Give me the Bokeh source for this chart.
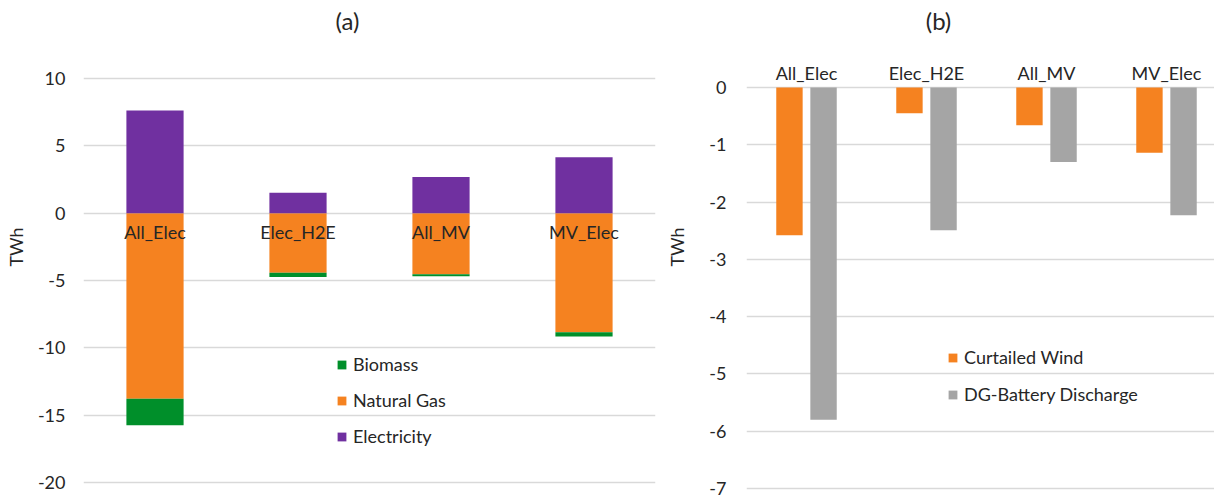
from bokeh.plotting import figure
from bokeh.layouts import row
from bokeh.models import (Range1d, FixedTicker, Legend, LegendItem, ColumnDataSource, Label)
from bokeh.transform import dodge
from bokeh.embed import file_html
from bokeh.resources import INLINE

# ---- data ----
categories = ["All_Elec", "Elec_H2E", "All_MV", "MV_Elec"]
electricity = [7.63, 1.51, 2.68, 4.15]
natural_gas = [-13.78, -4.42, -4.54, -8.84]
biomass = [-1.97, -0.32, -0.15, -0.31]
curtailed_wind = [-2.58, -0.45, -0.66, -1.14]
dg_battery_discharge = [-5.80, -2.49, -1.30, -2.23]
ticks_a = [-20, -15, -10, -5, 0, 5, 10]
ticks_b = [-7, -6, -5, -4, -3, -2, -1, 0]

FONT = "Lato"
TXT = "#262626"
GRID = "#D9D9D9"
ORANGE = "#F58220"
GREEN = "#008F2A"
PURPLE = "#7030A0"
GRAY = "#A5A5A5"
FS = "18px"

idx = list(range(len(categories)))
cat_labels = {i: c for i, c in zip(idx, categories)}


def style_common(p, yticks):
    p.outline_line_color = None
    p.xgrid.visible = False
    p.ygrid.grid_line_color = GRID
    p.ygrid.grid_line_width = 1.5
    for ax in p.axis:
        ax.axis_line_color = None
        ax.major_tick_line_color = None
        ax.minor_tick_line_color = None
        ax.major_tick_out = 0
        ax.major_tick_in = 0
        ax.minor_tick_out = 0
        ax.minor_tick_in = 0
        ax.major_label_text_font = FONT
        ax.major_label_text_font_size = FS
        ax.major_label_text_color = TXT
    p.yaxis.ticker = FixedTicker(ticks=yticks)
    p.yaxis.major_label_overrides = {t: str(t) for t in yticks}
    p.yaxis.axis_label = "TWh"
    p.yaxis.axis_label_text_font = FONT
    p.yaxis.axis_label_text_font_size = FS
    p.yaxis.axis_label_text_font_style = "normal"
    p.yaxis.axis_label_text_color = TXT
    p.xaxis.ticker = FixedTicker(ticks=idx)
    p.xaxis.major_label_overrides = cat_labels
    p.xaxis.fixed_location = 0


def title_label(text, x, y):
    return Label(x=x, y=y, text=text, text_font=FONT, text_font_size="24px",
                 text_color=TXT, text_align="center", text_baseline="middle")


# ---- panel (a) ----
src_a = ColumnDataSource(dict(idx=idx, elec=electricity, ng=natural_gas, bio=biomass))
pa = figure(width=660, height=499, x_range=Range1d(-0.5, 3.5),
            y_range=Range1d(-20.668, 15.643), output_backend="svg", toolbar_location=None,
            min_border_left=83, min_border_right=5, min_border_top=2, min_border_bottom=8)
r_ng, r_bio = pa.vbar_stack(["ng", "bio"], x="idx", width=0.4, color=[ORANGE, GREEN],
                            line_color=None, source=src_a)
r_el = pa.vbar(x="idx", top="elec", bottom=0, width=0.4, color=PURPLE, line_color=None,
               source=src_a)
style_common(pa, ticks_a)
pa.yaxis.major_label_standoff = 18
pa.yaxis.axis_label_standoff = 8
pa.xaxis.major_label_standoff = 8
pa.add_layout(title_label("(a)", 1.346, 14.307))

leg_a = Legend(items=[LegendItem(label="Biomass", renderers=[r_bio]),
                      LegendItem(label="Natural Gas", renderers=[r_ng]),
                      LegendItem(label="Electricity", renderers=[r_el])],
               location=(253, 44), orientation="vertical", border_line_color=None,
               background_fill_alpha=0, padding=0, margin=0, spacing=14,
               glyph_width=11, glyph_height=11, label_standoff=6,
               label_text_font=FONT, label_text_font_size=FS, label_text_color=TXT,
               label_height=20)
pa.add_layout(leg_a)

# ---- panel (b) ----
src_b = ColumnDataSource(dict(idx=idx, wind=curtailed_wind, dg=dg_battery_discharge))
pb = figure(width=554, height=499, x_range=Range1d(-0.5, 3.4), y_range=Range1d(-7.052, 1.4837),
            x_axis_location="above", output_backend="svg", toolbar_location=None,
            min_border_left=86, min_border_right=0, min_border_top=2, min_border_bottom=8)
r_w = pb.vbar(x=dodge("idx", -0.142), top="wind", bottom=0, width=0.22, color=ORANGE,
              line_color=None, source=src_b)
r_d = pb.vbar(x=dodge("idx", 0.142), top="dg", bottom=0, width=0.22, color=GRAY,
              line_color=None, source=src_b)
style_common(pb, ticks_b)
pb.yaxis.major_label_standoff = 20
pb.yaxis.axis_label_standoff = 18
pb.xaxis.major_label_standoff = 3
pb.add_layout(title_label("(b)", 1.1, 1.1695))

leg_b = Legend(items=[LegendItem(label="Curtailed Wind", renderers=[r_w]),
                      LegendItem(label="DG-Battery Discharge", renderers=[r_d])],
               location=(201, 86), orientation="vertical", border_line_color=None,
               background_fill_alpha=0, padding=0, margin=0, spacing=15,
               glyph_width=11, glyph_height=11, label_standoff=6,
               label_text_font=FONT, label_text_font_size=FS, label_text_color=TXT,
               label_height=20)
pb.add_layout(leg_b)

layout = row(pa, pb)
open("out.html", "w").write(file_html(layout, INLINE))
